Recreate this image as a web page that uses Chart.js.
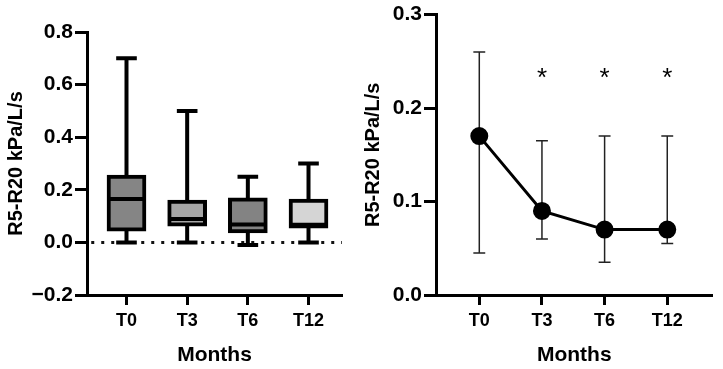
<!DOCTYPE html>
<html>
<head>
<meta charset="utf-8">
<script src="https://cdn.jsdelivr.net/npm/chart.js@4"></script>
<style>
  html, body { margin: 0; padding: 0; background: #fff; }
  #wrap { position: relative; width: 723px; height: 369px; overflow: hidden; }
  #leftBox { position: absolute; left: 0; top: 0; width: 360px; height: 369px; }
  #rightBox { position: absolute; left: 360px; top: 0; width: 363px; height: 369px; }
</style>
</head>
<body>
<div id="wrap">
  <div id="leftBox"><canvas id="boxChart"></canvas></div>
  <div id="rightBox"><canvas id="lineChart"></canvas></div>
</div>
<script>
// categories (months)
const months = ['T0', 'T3', 'T6', 'T12'];

// box plot values (left panel)
const whiskMin = [0, 0, -0.01, 0];
const boxQ1    = [0.043, 0.062, 0.036, 0.054];
const boxMed   = [0.165, 0.089, 0.068, 0.067];
const boxQ3    = [0.256, 0.161, 0.169, 0.165];
const whiskMax = [0.7, 0.5, 0.25, 0.3];
const boxColors = ['#858585', '#a6a6a6', '#838383', '#d5d5d5'];
const leftTicks = [-0.2, 0, 0.2, 0.4, 0.6, 0.8];

// median line plot values (right panel)
const medVals = [0.17, 0.09, 0.07, 0.07];
const errLow  = [0.045, 0.06, 0.035, 0.055];
const errHigh = [0.26, 0.165, 0.17, 0.17];
const sigMarks = ['', '*', '*', '*'];
const sigLevel = 0.236;
const rightTicks = [0, 0.1, 0.2, 0.3];

const FONT = "'Liberation Sans', Arial, sans-serif";
const INK = '#000';

Chart.defaults.font.family = FONT;
Chart.defaults.color = INK;
Chart.defaults.animation = false;

// builds vertical bars plus caps as one broken line
function barsWithCaps(lo, hi, cap) {
  const pts = [];
  lo.forEach((v, i) => {
    pts.push({x: i, y: v}, {x: i, y: hi[i]}, {x: i, y: null});
    pts.push({x: i - cap, y: hi[i]}, {x: i + cap, y: hi[i]}, {x: i, y: null});
    pts.push({x: i - cap, y: v}, {x: i + cap, y: v}, {x: i, y: null});
  });
  return pts;
}

function fmt(v) {
  return v.toFixed(1).replace('-', '\u2212');
}

function axisX(xmin, xmax) {
  return {
    type: 'linear',
    min: xmin,
    max: xmax,
    offset: false,
    afterBuildTicks: s => { s.ticks = months.map((m, i) => ({value: i})); },
    afterFit: s => { s.height = 74; },
    ticks: {
      callback: v => months[v],
      font: {size: 18, weight: 'bold'},
      color: INK,
      padding: 5,
      maxRotation: 0
    },
    grid: { drawOnChartArea: false, offset: false, tickLength: 10, tickWidth: 3, tickColor: INK },
    border: { color: INK, width: 3 },
    title: { display: true, text: 'Months', font: {size: 21, weight: 'bold'}, color: INK, padding: {top: 0, bottom: 1} }
  };
}

function axisY(ymin, ymax, tickVals, width, titlePad) {
  return {
    type: 'linear',
    min: ymin,
    max: ymax,
    afterBuildTicks: s => { s.ticks = tickVals.map(v => ({value: v})); },
    afterFit: s => { s.width = width; },
    ticks: {
      callback: v => fmt(v),
      font: {size: 21, weight: 'bold'},
      color: INK,
      padding: 2
    },
    grid: { drawOnChartArea: false, tickLength: 12, tickWidth: 3, tickColor: INK },
    border: { color: INK, width: 3 },
    title: { display: true, text: 'R5-R20 kPa/L/s', font: {size: 20, weight: 'bold'}, color: INK, padding: {top: titlePad, bottom: 0} }
  };
}

// left panel: box and whisker plot
const leftMin = -0.651, leftMax = 3.552;
new Chart(document.getElementById('boxChart'), {
  type: 'bar',
  data: {
    datasets: [
      {
        type: 'line',
        data: [{x: leftMin + 0.07, y: 0}, {x: leftMax, y: 0}],
        borderColor: '#111',
        borderWidth: 3,
        borderDash: [3, 7],
        pointRadius: 0,
        order: 4
      },
      {
        type: 'line',
        data: barsWithCaps(whiskMin, whiskMax, 0.17),
        borderColor: INK,
        borderWidth: 4,
        pointRadius: 0,
        spanGaps: false,
        order: 3
      },
      {
        data: boxQ1.map((q, i) => ({x: i, y: [q, boxQ3[i]]})),
        backgroundColor: boxColors,
        borderColor: INK,
        borderWidth: 4,
        borderSkipped: false,
        barThickness: 39,
        order: 2
      },
      {
        type: 'line',
        data: boxMed.flatMap((m, i) => [{x: i - 0.29, y: m}, {x: i + 0.29, y: m}, {x: i, y: null}]),
        borderColor: INK,
        borderWidth: 4,
        pointRadius: 0,
        spanGaps: false,
        order: 1
      }
    ]
  },
  options: {
    responsive: true,
    maintainAspectRatio: false,
    layout: { padding: {top: 32, right: 18, bottom: 0, left: 0} },
    plugins: { legend: {display: false}, tooltip: {enabled: false} },
    scales: {
      x: axisX(leftMin, leftMax),
      y: axisY(-0.2, 0.8, leftTicks, 87, 4)
    }
  }
});

// asterisks over the significant time points
const sigPlugin = {
  id: 'sigMarks',
  afterDatasetsDraw(chart) {
    const {ctx, scales} = chart;
    ctx.save();
    ctx.font = '26px ' + FONT;
    ctx.fillStyle = INK;
    ctx.textAlign = 'center';
    ctx.textBaseline = 'middle';
    sigMarks.forEach((m, i) => {
      if (!m) return;
      ctx.fillText(m, scales.x.getPixelForValue(i), scales.y.getPixelForValue(sigLevel) + 4);
    });
    ctx.restore();
  }
};

// right panel: median with error bars
const rightMin = -0.691, rightMax = 3.722;
new Chart(document.getElementById('lineChart'), {
  type: 'line',
  data: {
    datasets: [
      {
        data: medVals.map((v, i) => ({x: i, y: v})),
        borderColor: INK,
        borderWidth: 3,
        pointRadius: 7.5,
        pointBackgroundColor: INK,
        pointBorderColor: INK,
        order: 0
      },
      {
        data: barsWithCaps(errLow, errHigh, 0.095),
        borderColor: '#222',
        borderWidth: 1.5,
        pointRadius: 0,
        spanGaps: false,
        order: 1
      }
    ]
  },
  options: {
    responsive: true,
    maintainAspectRatio: false,
    layout: { padding: {top: 13, right: 6, bottom: 0, left: 0} },
    plugins: { legend: {display: false}, tooltip: {enabled: false} },
    scales: {
      x: axisX(rightMin, rightMax),
      y: axisY(0, 0.3, rightTicks, 76, 1)
    }
  },
  plugins: [sigPlugin]
});
</script>
</body>
</html>
